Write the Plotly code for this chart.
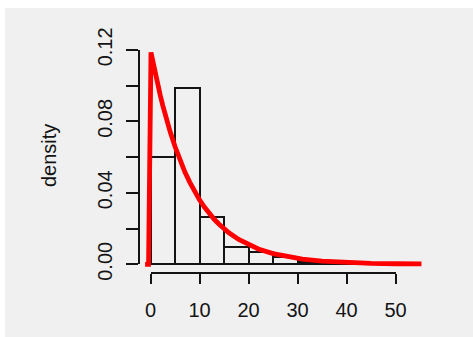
import plotly.graph_objects as go

# Histogram of the sample (density scale), bins of width 5
bin_left = [0, 5, 10, 15, 20, 25, 30, 35, 40]
bin_density = [0.0600, 0.0985, 0.0262, 0.0098, 0.0067, 0.0039, 0.0015, 0.0012, 0.0004]
bin_width = 5

# Fitted exponential density, sampled along x
curve_x = [-1.1, -0.4, 0.1, 0.5, 1, 1.5, 2, 2.5, 3, 4, 5, 6, 7, 8, 9, 10, 11, 12,
           13, 14, 16, 18, 20, 22, 25, 28, 31, 35, 40, 45, 50, 55.3]
curve_y = [0, 0, 0.1186, 0.1130, 0.1064, 0.1003, 0.0945, 0.0890, 0.0838, 0.0743,
           0.0659, 0.0584, 0.0518, 0.0460, 0.0408, 0.0361, 0.0320, 0.0284,
           0.0252, 0.0224, 0.0176, 0.0139, 0.0109, 0.0086, 0.0060, 0.0042,
           0.0029, 0.0018, 0.0010, 0.0005, 0.0003, 0.0002]

x_ticks = [0, 10, 20, 30, 40, 50]
y_ticks = [0.00, 0.02, 0.04, 0.06, 0.08, 0.10, 0.12]
y_tick_text = ["0.00", "", "0.04", "", "0.08", "", "0.12"]
y_label = "density"

# ---- page geometry (pixels) ----
W, H = 473, 337
L, R, T, B = 130, 430, 40, 280           # plot area edges
X0_PX, X50_PX = 150.5, 395.5             # where x=0 and x=50 fall
Y0_PX, Y12_PX = 264.3, 49.9              # where y=0 and y=0.12 fall
XAXIS_PX = 272.7                         # x axis line (offset below the data)
YAXIS_PX = 139.3                         # y axis line (offset left of the data)

px_per_x = (X50_PX - X0_PX) / 50
px_per_y = (Y0_PX - Y12_PX) / 0.12
x_range = [(L - X0_PX) / px_per_x, (R - X0_PX) / px_per_x]
y_range = [(Y0_PX - B) / px_per_y, (Y0_PX - T) / px_per_y]
pw, ph = R - L, B - T

ink = "#141414"
font = dict(family="Liberation Sans, Arial, sans-serif", size=20, color=ink)

fig = go.Figure()

fig.add_trace(go.Bar(
    x=[b + bin_width / 2 for b in bin_left],
    y=bin_density,
    width=bin_width,
    marker=dict(color="rgba(0,0,0,0)", line=dict(color=ink, width=2)),
    showlegend=False,
    hoverinfo="skip",
))

fig.add_trace(go.Scatter(
    x=curve_x, y=curve_y, mode="lines",
    line=dict(color="#ff0000", width=4.8),
    showlegend=False, hoverinfo="skip",
))

# empty trace so the offset axes are drawn
fig.add_trace(go.Scatter(x=[], y=[], xaxis="x2", yaxis="y2", showlegend=False))

hidden = dict(visible=False, showgrid=False, zeroline=False, fixedrange=True)

fig.update_layout(
    width=W, height=H,
    margin=dict(l=L, r=W - R, t=T, b=H - B, pad=0),
    paper_bgcolor="#f0f0f0",
    plot_bgcolor="rgba(0,0,0,0)",
    bargap=0,
    xaxis=dict(range=x_range, **hidden),
    yaxis=dict(range=y_range, **hidden),
    xaxis2=dict(
        domain=[(X0_PX - L) / pw, (X50_PX - L) / pw],
        range=[0, 50], anchor="free", position=(B - XAXIS_PX) / ph,
        tickmode="array", tickvals=x_ticks, ticktext=[str(v) for v in x_ticks],
        ticks="outside", ticklen=10.5, tickwidth=2, tickcolor=ink,
        showline=True, linecolor=ink, linewidth=2,
        showgrid=False, zeroline=False, tickfont=font, ticklabelstandoff=9,
    ),
    yaxis2=dict(
        domain=[(B - Y0_PX) / ph, (B - Y12_PX) / ph],
        range=[0, 0.12], anchor="free", position=(YAXIS_PX - L) / pw,
        tickmode="array", tickvals=y_ticks, ticktext=y_tick_text,
        ticks="outside", ticklen=12.5, tickwidth=2, tickcolor=ink,
        showline=True, linecolor=ink, linewidth=2,
        showgrid=False, zeroline=False, tickfont=font, tickangle=-90,
        ticklabelstandoff=6,
    ),
    annotations=[dict(
        text=y_label, textangle=-90, showarrow=False,
        xref="paper", yref="paper",
        x=(49 - L) / pw, y=(B - 156) / ph, xanchor="center", yanchor="middle",
        font=font,
    )],
    shapes=[
        # white page border along the top and left edges
        dict(type="rect", xref="paper", yref="paper",
             x0=-L / pw - 0.1, x1=(W - L) / pw + 0.1,
             y0=(B - 8) / ph, y1=B / ph + 0.1,
             fillcolor="white", line=dict(width=0), layer="below"),
        dict(type="rect", xref="paper", yref="paper",
             x0=-L / pw - 0.1, x1=(5 - L) / pw,
             y0=-(H - B) / ph - 0.1, y1=B / ph + 0.1,
             fillcolor="white", line=dict(width=0), layer="below"),
    ],
)

fig.write_html("out.html")
